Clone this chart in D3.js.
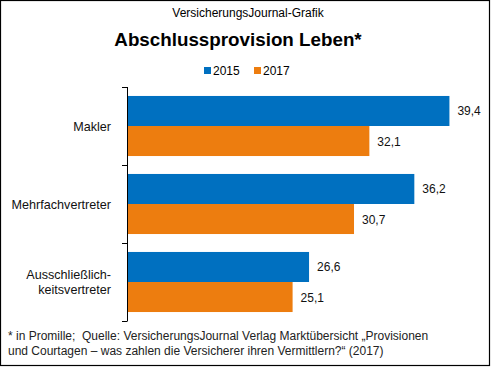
<!DOCTYPE html>
<html><head><meta charset="utf-8">
<script src="https://cdn.jsdelivr.net/npm/d3@7"></script>
<style>body{margin:0;background:#fff}svg{display:block;font-family:"Liberation Sans",Arial,sans-serif}</style>
</head><body>
<script>
const categories = [["Makler"], ["Mehrfachvertreter"], ["Ausschließlich-", "keitsvertreter"]];
const seriesNames = ["2015", "2017"];
const values2015 = [39.4, 36.2, 26.6];
const values2017 = [32.1, 30.7, 25.1];
const colors = ["#0070C0", "#ED7D0F"];
const xDomain = [10, 40];

(function () {
const W = 491, H = 367;
const svg = d3.select("body").append("svg").attr("width", W).attr("height", H);
svg.append("rect").attr("x", 0.5).attr("y", 0.5).attr("width", W - 2).attr("height", H - 2)
  .attr("fill", "#fff").attr("stroke", "#000").attr("stroke-width", 1.2);

svg.append("text").attr("x", 248).attr("y", 17).attr("text-anchor", "middle")
  .attr("font-size", 12).text("VersicherungsJournal-Grafik");
svg.append("text").attr("x", 238).attr("y", 46).attr("text-anchor", "middle")
  .attr("font-size", 18.8).attr("font-weight", "bold").text("Abschlussprovision Leben*");

// legend
const legX = [204, 254];
seriesNames.forEach((s, i) => {
  svg.append("rect").attr("x", legX[i]).attr("y", 67).attr("width", 7).attr("height", 7).attr("fill", colors[i]);
  svg.append("text").attr("x", legX[i] + 9).attr("y", 75).attr("font-size", 12).text(s);
});

const pl = 127, pr = 456, pt = 87, pb = 321;
const x = d3.scaleLinear().domain(xDomain).range([pl, pr]);
const y = d3.scaleBand().domain(d3.range(categories.length)).range([pt, pb]).paddingInner(0.23).paddingOuter(0.115);
const sub = d3.scaleBand().domain([0, 1]).range([0, y.bandwidth()]);

const data = categories.map((c, i) => ({ i, vals: [values2015[i], values2017[i]] }));
const g = svg.append("g");
data.forEach(d => {
  d.vals.forEach((v, k) => {
    const yy = y(d.i) + sub(k);
    g.append("rect").attr("x", x(xDomain[0])).attr("y", yy).attr("width", x(v) - x(xDomain[0]))
      .attr("height", sub.bandwidth()).attr("fill", colors[k]);
    g.append("text").attr("x", x(v) + 8).attr("y", yy + sub.bandwidth() / 2 + 4.5)
      .attr("font-size", 12).attr("fill", "#111").text(d3.format(".1f")(v).replace(".", ","));
  });
});

// axis line and ticks at band boundaries
const boundaries = d3.range(categories.length + 1).map(i => pt + i * (pb - pt) / categories.length);
svg.append("line").attr("x1", pl + 0.5).attr("x2", pl + 0.5).attr("y1", pt).attr("y2", pb).attr("stroke", "#000");
boundaries.forEach(b => {
  svg.append("line").attr("x1", pl - 5).attr("x2", pl + 0.5).attr("y1", Math.round(b) + 0.5).attr("y2", Math.round(b) + 0.5).attr("stroke", "#000");
});

// category labels
categories.forEach((lines, i) => {
  const cy = pt + (i + 0.5) * (pb - pt) / categories.length;
  const t = svg.append("text").attr("text-anchor", "end").attr("font-size", 12.6).attr("fill", "#111");
  lines.forEach((l, j) => {
    t.append("tspan").attr("x", 111).attr("y", cy + 4.5 + (j - (lines.length - 1) / 2) * 15).text(l);
  });
});

// footer
const foot = ["* in Promille;  Quelle: VersicherungsJournal Verlag Marktübersicht „Provisionen",
  "und Courtagen – was zahlen die Versicherer ihren Vermittlern?“ (2017)"];
foot.forEach((f, j) => {
  svg.append("text").attr("x", 8).attr("y", 340 + j * 15).attr("font-size", 12).attr("fill", "#222")
    .style("white-space", "pre").text(f);
});
})();
</script>
</body></html>
